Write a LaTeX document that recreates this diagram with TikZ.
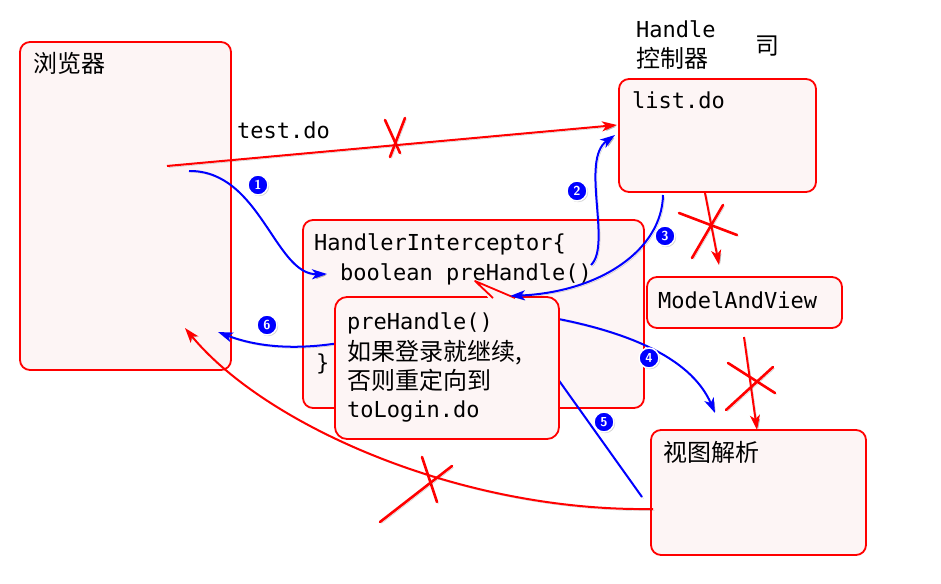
\documentclass[tikz,border=0pt]{standalone}
\usepackage{fontspec}
\newfontfamily\cjk{Noto Sans CJK SC}
\newfontfamily\mono{DejaVu Sans Mono}
\usetikzlibrary{arrows.meta,shadows}
\definecolor{boxfill}{RGB}{253,245,245}
\definecolor{rd}{RGB}{255,0,0}
\definecolor{bl}{RGB}{0,0,255}
\begin{document}
\begin{tikzpicture}[x=1pt,y=-1pt,
 lineshadow/.style={preaction={draw=black, draw opacity=0.22, fill opacity=0.22, transform canvas={shift={(1.5pt,-1.5pt)}}}},
 box/.style={draw=rd, fill=boxfill, line width=1.8pt, rounded corners=10pt, inner sep=0pt},
 code/.style={font=\mono\fontsize{22}{29}\selectfont, anchor=base west, inner sep=0pt},
 zh/.style={font=\cjk\fontsize{24}{29}\selectfont, anchor=base west, inner sep=0pt},
 redarrow/.style={lineshadow, draw=rd, line width=2pt, -{Stealth[length=15pt,width=10pt,inset=4pt]}},
 bluearrow/.style={lineshadow, draw=bl, line width=2pt, -{Stealth[length=15pt,width=10pt,inset=4pt]}},
 blueline/.style={lineshadow, draw=bl, line width=2pt},
 crossline/.style={lineshadow, draw=rd, line width=2.6pt, line cap=round},
 badge/.style={circle, fill=bl, draw=white, line width=1.5pt, minimum size=20pt, inner sep=0pt, text=white, font=\sffamily\bfseries\fontsize{13}{13}\selectfont, drop shadow={opacity=0.35, shadow xshift=1.2pt, shadow yshift=-1.2pt}},
]
\useasboundingbox (0,0) rectangle (941,583);

% boxes
\node[box, minimum width=211pt, minimum height=328pt] (browser) at (125.5,206) {};
\node[box, minimum width=197pt, minimum height=113pt] (listdo) at (717.5,135.5) {};
\node[box, minimum width=341pt, minimum height=188pt] (inter) at (473.5,314) {};
\node[box, minimum width=195pt, minimum height=51pt] (mav) at (744.5,302.5) {};
\node[box, minimum width=215pt, minimum height=125pt] (view) at (758.5,492.5) {};

% texts
\node[zh] (tbrowser) at (33,73) {浏览器};
\node[code] (thandle) at (636,38) {Handle};
\node[zh] (tctrl) at (636,68) {控制器};
\node[zh] (tsi) at (755,55) {司};
\node[code] (ttest) at (237,138) {test.do};
\node[code] (tlist) at (632,109) {list.do};
\node[code] (tmav) at (658,308) {ModelAndView};
\node[zh] (tview) at (663,461) {视图解析};
\node[code] (ti1) at (314,250) {HandlerInterceptor\{};
\node[code] (ti2) at (340,280) {boolean preHandle()};
\node[code] (ti5) at (316,370) {\}};

% connectors behind the callout
\coordinate (s4) at (548,317); \coordinate (e4) at (715,413);
\draw[bluearrow] (s4) .. controls (620,330) and (690,355) .. (e4);
\coordinate (s5) at (550,368); \coordinate (e5) at (642,497);
\draw[blueline] (s5) -- (e5);
\coordinate (s6) at (345,342); \coordinate (e6) at (218,332);
\draw[bluearrow] (s6) .. controls (300,350) and (260,348) .. (e6);

% callout
\node[box, minimum width=224pt, minimum height=142pt, rounded corners=12pt] (callout) at (447,368) {};
\coordinate (ptip) at (475,281);
\fill[boxfill] (490,300) -- (ptip) -- (518,300) -- cycle;
\draw[rd, line width=1.8pt, line join=round] (493,298) -- (ptip) -- (515,298);
\node[code] (tc1) at (347,329) {preHandle()};
\node[zh] (tc2) at (347,360) {如果登录就继续,};
\node[zh] (tc3) at (347,389) {否则重定向到};
\node[code] (tc4) at (347,417) {toLogin.do};

% red request arrow
\coordinate (s0) at (167,166); \coordinate (e0) at (617,125);
\draw[redarrow] (s0) -- (e0);
\draw[crossline] (385,120) -- (400,153);
\draw[crossline] (405,118) -- (390,157);

% blue flow
\coordinate (s1) at (189,171); \coordinate (e1) at (327,274);
\draw[bluearrow] (s1) .. controls (260,170) and (275,275) .. (e1);
\coordinate (s2) at (591,265); \coordinate (e2) at (615,135);
\draw[bluearrow] (s2) .. controls (612,245) and (580,160) .. (e2);
\coordinate (s3) at (663,195); \coordinate (e3) at (510,296);
\draw[bluearrow] (s3) .. controls (662,250) and (600,292) .. (e3);

% crossed red arrows
\coordinate (s7) at (705,193); \coordinate (e7) at (719,265);
\draw[redarrow] (s7) -- (e7);
\draw[crossline] (679,213) -- (737,235);
\draw[crossline] (723,205) -- (692,258);
\coordinate (s8) at (744,337); \coordinate (e8) at (757,430);
\draw[redarrow] (s8) -- (e8);
\draw[crossline] (728,363) -- (775,393);
\draw[crossline] (773,367) -- (726,410);
\coordinate (s9) at (653,509); \coordinate (e9) at (185,328);
\draw[redarrow] (s9) .. controls (460,512) and (265,425) .. (e9);
\draw[crossline] (422,457) -- (437,502);
\draw[crossline] (452,466) -- (380,522);

% badges
\node[badge] (b1) at (258,185) {1};
\node[badge] (b2) at (577,191) {2};
\node[badge] (b3) at (665,236) {3};
\node[badge] (b4) at (649,358) {4};
\node[badge] (b5) at (604,422) {5};
\node[badge] (b6) at (267,325) {6};
\end{tikzpicture}
\end{document}
